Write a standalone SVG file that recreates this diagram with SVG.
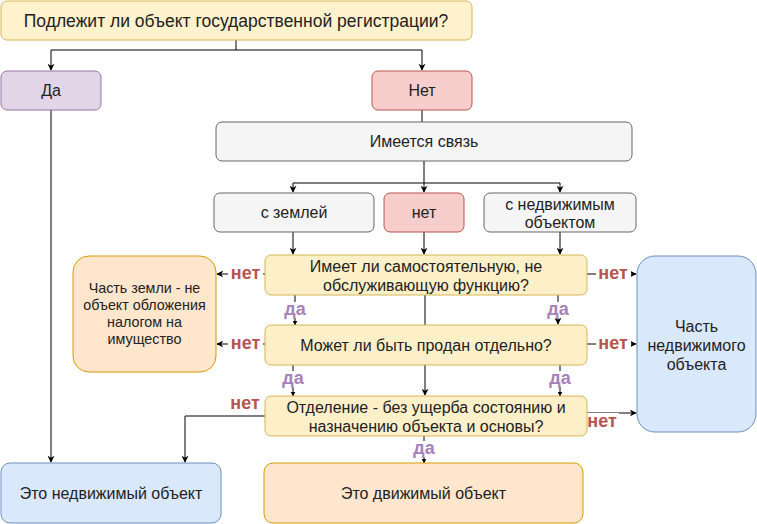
<svg xmlns="http://www.w3.org/2000/svg" width="757" height="524" viewBox="0 0 757 524">
<defs>
<style>
text{font-family:"Liberation Sans",Arial,sans-serif;font-size:16px;fill:#222;text-anchor:middle;dominant-baseline:central}
.yel{fill:#fff2cc;stroke:#d6b656}
.q{fill:#fdefc8;stroke:#d6b656}
.pur{fill:#e1d5e7;stroke:#9673a6}
.red{fill:#f8cecc;stroke:#b85450}
.gry{fill:#f5f5f5;stroke:#666666}
.org{fill:#ffe6cc;stroke:#d79b00}
.blu{fill:#dae8fc;stroke:#6c8ebf}
.e{fill:none;stroke:#000;stroke-width:1}
.no{font-weight:bold;fill:#b85450;font-size:18px}
.yes{font-weight:bold;fill:#a680b8;font-size:18px}
.bg{fill:#fff}
.sm{font-size:14.3px}
</style>
<marker id="a" viewBox="0 0 10 10" refX="9" refY="5" markerWidth="7" markerHeight="7" orient="auto" markerUnits="userSpaceOnUse"><path d="M0,0 L10,5 L0,10 L3,5 Z" fill="#000"/></marker>
<marker id="s" viewBox="0 0 10 10" refX="9" refY="5" markerWidth="5" markerHeight="5" orient="auto" markerUnits="userSpaceOnUse"><path d="M0,0 L10,5 L0,10 Z" fill="#000"/></marker>
</defs>
<g id="connectors">
<path class="e" d="M236,40 V50 M51,50 H422" />
<path class="e" d="M51,50 V70" marker-end="url(#a)"/>
<path class="e" d="M422,50 V70" marker-end="url(#a)"/>
<path class="e" d="M422,110 V122"/>
<path class="e" d="M424,161 V183 M293,183 H560"/>
<path class="e" d="M293,183 V192" marker-end="url(#a)"/>
<path class="e" d="M424,183 V192" marker-end="url(#a)"/>
<path class="e" d="M560,183 V192" marker-end="url(#a)"/>
<path class="e" d="M293,232 V254" marker-end="url(#a)"/>
<path class="e" d="M424,232 V254" marker-end="url(#a)"/>
<path class="e" d="M560,232 V254" marker-end="url(#a)"/>
<path class="e" d="M51,110 V462" marker-end="url(#a)"/>
<path class="e" d="M265,274 H217" marker-end="url(#a)"/>
<path class="e" d="M587,274 H636" marker-end="url(#a)"/>
<path class="e" d="M265,344 H217" marker-end="url(#a)"/>
<path class="e" d="M587,344 H636" marker-end="url(#a)"/>
<path class="e" d="M587,413 H636" marker-end="url(#a)"/>
<path class="e" d="M265,416 H185 V462" marker-end="url(#a)"/>
<path class="e" d="M295,295 V325" marker-end="url(#s)"/>
<path class="e" d="M558,295 V324" marker-end="url(#a)"/>
<path class="e" d="M425,295 V325"/>
<path class="e" d="M425,365 V395" marker-end="url(#a)"/>
<path class="e" d="M293,365 V396" marker-end="url(#s)"/>
<path class="e" d="M560,365 V396" marker-end="url(#s)"/>
<path class="e" d="M424,436 V463" marker-end="url(#s)"/>
<rect class="bg" x="228" y="265" width="35" height="18"/><text class="no" x="245.5" y="273">нет</text>
<rect class="bg" x="596" y="265" width="35" height="18"/><text class="no" x="613" y="273">нет</text>
<rect class="bg" x="228" y="335" width="35" height="18"/><text class="no" x="245.5" y="343">нет</text>
<rect class="bg" x="596" y="335" width="35" height="18"/><text class="no" x="613" y="343">нет</text>
<text class="no" x="245" y="403">нет</text>
<rect class="bg" x="586" y="413" width="33" height="17"/><text class="no" x="602" y="421">нет</text>
<rect class="bg" x="282" y="302" width="26" height="16"/><text class="yes" x="295" y="309">да</text>
<rect class="bg" x="545" y="302" width="26" height="16"/><text class="yes" x="558" y="309">да</text>
<rect class="bg" x="280" y="371" width="26" height="16"/><text class="yes" x="293" y="378">да</text>
<rect class="bg" x="547" y="371" width="26" height="16"/><text class="yes" x="560" y="378">да</text>
<rect class="bg" x="411" y="441" width="26" height="16"/><text class="yes" x="424" y="448">да</text>
</g>
<g id="n-top"><rect class="yel" x="1" y="1" width="471" height="39" rx="6"/><text x="236" y="20.5" style="font-size:17.5px">Подлежит ли объект государственной регистрации?</text></g>
<g id="n-da"><rect class="pur" x="1" y="71" width="100" height="39" rx="6"/><text x="51" y="90.5">Да</text></g>
<g id="n-net"><rect class="red" x="372" y="71" width="100" height="39" rx="6"/><text x="422" y="90.5">Нет</text></g>
<g id="n-link"><rect class="gry" x="216" y="122" width="416" height="39" rx="6"/><text x="424" y="141.5">Имеется связь</text></g>
<g id="n-land"><rect class="gry" x="214" y="193" width="160" height="39" rx="6"/><text x="294" y="212.5">с землей</text></g>
<g id="n-none"><rect class="red" x="384" y="193" width="80" height="39" rx="6"/><text x="424" y="212.5">нет</text></g>
<g id="n-real"><rect class="gry" x="484" y="193" width="152" height="39" rx="6"/><text x="560" y="204">с недвижимым</text><text x="560" y="222">объектом</text></g>
<g id="n-q1"><rect class="q" x="265" y="255" width="322" height="40" rx="6"/><text x="426" y="266">Имеет ли самостоятельную, не</text><text x="426" y="285">обслуживающую функцию?</text></g>
<g id="n-q2"><rect class="q" x="265" y="325" width="322" height="40" rx="6"/><text x="426" y="345">Может ли быть продан отдельно?</text></g>
<g id="n-q3"><rect class="q" x="265" y="396" width="322" height="40" rx="6"/><text x="426" y="407">Отделение - без ущерба состоянию и</text><text x="426" y="426">назначению объекта и основы?</text></g>
<g id="n-landpart"><rect class="org" x="73" y="256" width="143" height="116" rx="16"/><text class="sm" x="144.5" y="288">Часть земли - не</text><text class="sm" x="144.5" y="305">объект обложения</text><text class="sm" x="144.5" y="322">налогом на</text><text class="sm" x="144.5" y="339">имущество</text></g>
<g id="n-realpart"><rect class="blu" x="637" y="256" width="119" height="176" rx="18"/><text x="696.5" y="326">Часть</text><text x="696.5" y="345">недвижимого</text><text x="696.5" y="364">объекта</text></g>
<g id="n-immov"><rect class="blu" x="1" y="463" width="220" height="60" rx="9"/><text x="111" y="493">Это недвижимый объект</text></g>
<g id="n-mov"><rect class="org" x="264" y="463" width="319" height="60" rx="9"/><text x="423.5" y="493">Это движимый объект</text></g>
</svg>
